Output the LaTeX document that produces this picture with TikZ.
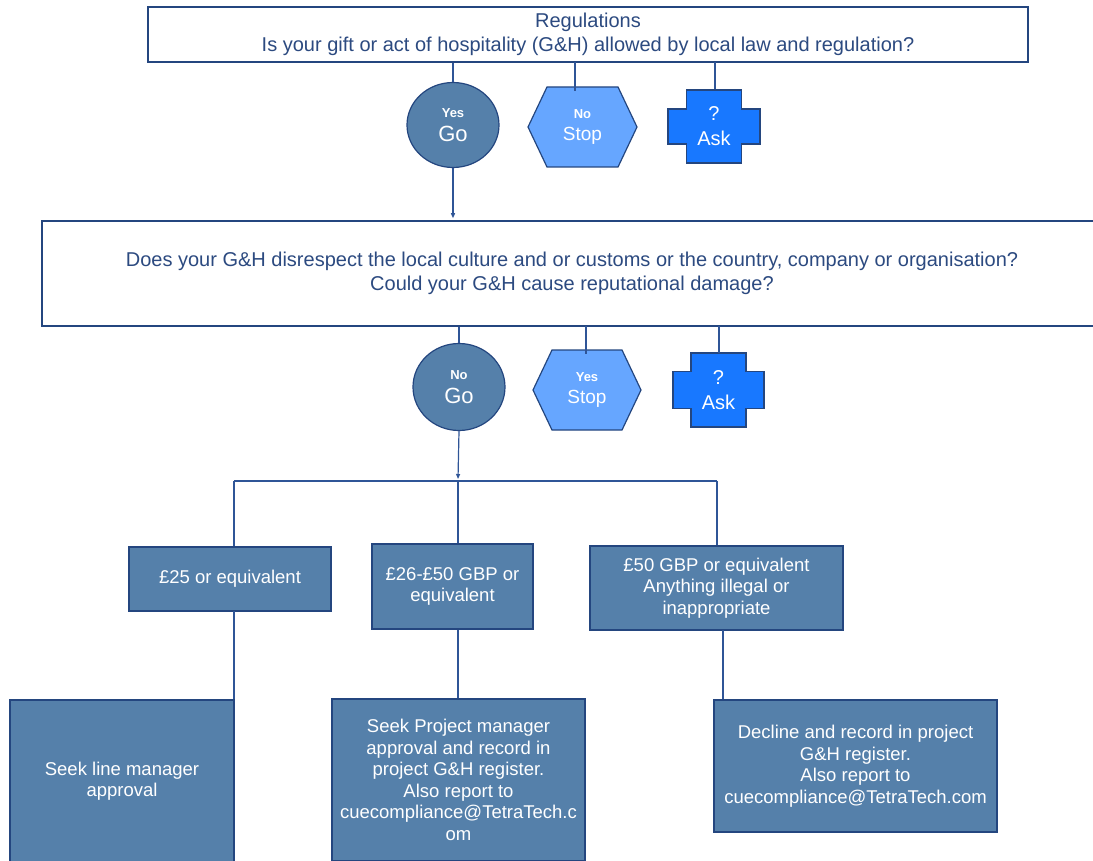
\documentclass[tikz,border=0pt]{standalone}
\usepackage{fontspec}
\setmainfont{Liberation Sans}
\usetikzlibrary{shapes.geometric,calc,arrows.meta}
\definecolor{fillblue}{HTML}{5580AA}
\definecolor{edgeblue}{HTML}{24467F}
\definecolor{txtblue}{HTML}{2C4A80}
\definecolor{hexblue}{HTML}{66A6FF}
\definecolor{askblue}{HTML}{1878FF}
\definecolor{lineblue}{HTML}{2F5597}
\begin{document}
\begin{tikzpicture}[x=1pt,y=-1pt,
  qbox/.style={draw=edgeblue,line width=1.5pt,fill=white,text=txtblue,align=center,
    font=\fontsize{20}{24.5}\selectfont,inner sep=0pt},
  vbox/.style={draw=edgeblue,line width=1.5pt,fill=fillblue,text=white,align=center,
    font=\fontsize{18.5}{21.5}\selectfont,inner sep=0pt},
  goshape/.style={ellipse,draw=edgeblue,line width=1.2pt,fill=fillblue,text=white,
    align=center,inner sep=0pt,minimum width=92pt,minimum height=85pt,
    font=\fontsize{22}{24}\selectfont},
  shapetext/.style={text=white,align=center,inner sep=0pt,minimum width=90pt,minimum height=72pt,
    font=\fontsize{20}{23}\selectfont},
  stopfill/.style={draw=edgeblue,line width=1.2pt,fill=hexblue},
  askfill/.style={draw=edgeblue,line width=1.2pt,fill=askblue},
  conn/.style={draw=lineblue,line width=1.2pt},
]
\useasboundingbox (0,0) rectangle (1093,861);

% ---- top question
\node[qbox,minimum width=880pt,minimum height=55pt] (box1) at (588,34.5)
  {Regulations\\Is your gift or act of hospitality (G\&H) allowed by local law and regulation?};

% ---- first answer row
\node[goshape] (circ1) at (453,125)
  {{\fontsize{13}{24}\selectfont\bfseries Yes}\\Go};

\coordinate (h1) at (582.5,127);
\draw[stopfill] ($(h1)+(-54.5,0)$) -- ($(h1)+(-35.5,-40)$) -- ($(h1)+(35.5,-40)$)
  -- ($(h1)+(54.5,0)$) -- ($(h1)+(35.5,40)$) -- ($(h1)+(-35.5,40)$) -- cycle;
\node[shapetext,font=\fontsize{19}{22}\selectfont] (hex1) at (h1)
  {{\fontsize{13}{22}\selectfont\bfseries No}\\Stop};

\coordinate (c1) at (714,126.5);
\draw[askfill] ($(c1)+(-27.5,-36.5)$) -- ($(c1)+(27.5,-36.5)$) -- ($(c1)+(27.5,-17.5)$)
  -- ($(c1)+(46,-17.5)$) -- ($(c1)+(46,17.5)$) -- ($(c1)+(27.5,17.5)$)
  -- ($(c1)+(27.5,36.5)$) -- ($(c1)+(-27.5,36.5)$) -- ($(c1)+(-27.5,17.5)$)
  -- ($(c1)+(-46,17.5)$) -- ($(c1)+(-46,-17.5)$) -- ($(c1)+(-27.5,-17.5)$) -- cycle;
\node[shapetext,font=\fontsize{20}{25}\selectfont] (cross1) at (c1) {?\\Ask};

% ---- second question
\node[qbox,minimum width=1060pt,minimum height=105pt] (box2) at (572,273.5)
  {Does your G\&H disrespect the local culture and or customs or the country, company or organisation?\\
   Could your G\&H cause reputational damage?};

% ---- second answer row
\node[goshape,minimum height=87pt] (circ2) at (459,387)
  {{\fontsize{13}{24}\selectfont\bfseries No}\\Go};

\coordinate (h2) at (587,390);
\draw[stopfill] ($(h2)+(-54,0)$) -- ($(h2)+(-35,-40)$) -- ($(h2)+(35,-40)$)
  -- ($(h2)+(54,0)$) -- ($(h2)+(35,40)$) -- ($(h2)+(-35,40)$) -- cycle;
\node[shapetext,font=\fontsize{19}{22}\selectfont] (hex2) at (h2)
  {{\fontsize{13}{22}\selectfont\bfseries Yes}\\Stop};

\coordinate (c2) at (718.5,390);
\draw[askfill] ($(c2)+(-27.5,-37)$) -- ($(c2)+(27.5,-37)$) -- ($(c2)+(27.5,-18.5)$)
  -- ($(c2)+(45.5,-18.5)$) -- ($(c2)+(45.5,18.5)$) -- ($(c2)+(27.5,18.5)$)
  -- ($(c2)+(27.5,37)$) -- ($(c2)+(-27.5,37)$) -- ($(c2)+(-27.5,18.5)$)
  -- ($(c2)+(-45.5,18.5)$) -- ($(c2)+(-45.5,-18.5)$) -- ($(c2)+(-27.5,-18.5)$) -- cycle;
\node[shapetext,font=\fontsize{20}{25}\selectfont] (cross2) at (c2) {?\\Ask};

% ---- value boxes
\node[vbox,minimum width=202pt,minimum height=64pt] (boxa) at (230,579) {£25 or equivalent};
\node[vbox,minimum width=161pt,minimum height=85pt] (boxb) at (452.5,586.5) {£26-£50 GBP or\\equivalent};
\node[vbox,minimum width=253pt,minimum height=84pt] (boxc) at (716.5,588)
  {£50 GBP or equivalent\\Anything illegal or\\inappropriate};

% ---- action boxes
\node[vbox,minimum width=224pt,minimum height=162pt] (boxd) at (122,781) {Seek line manager\\approval};
\node[vbox,minimum width=253pt,minimum height=162pt] (boxe) at (458.5,780)
  {Seek Project manager\\approval and record in\\project G\&H register.\\Also report to\\cuecompliance@TetraTech.c\\om};
\node[vbox,minimum width=283pt,minimum height=132pt] (boxf) at (855.5,766)
  {Decline and record in project\\G\&H register.\\Also report to\\cuecompliance@TetraTech.com};

% ---- connectors
\coordinate (t1) at (575,62);
\coordinate (t2) at (715,62);
\draw[conn] (box1.south -| circ1.north) -- (circ1.north);
\draw[conn] (t1) -- (t1 |- hex1.north);
\draw[conn] (t2) -- ($(t2 |- cross1.north)+(0,-1)$);
\draw[conn,-{Triangle[length=5pt,width=4pt]}] (circ1.south) -- ($(circ1.south |- box2.north)+(0,-2)$);

\coordinate (u1) at (586,326);
\coordinate (u2) at (719,326);
\draw[conn] (box2.south -| circ2.north) -- (circ2.north);
\draw[conn] (u1) -- (u1 |- hex2.north);
\draw[conn] (u2) -- ($(u2 |- cross2.north)+(0,-1)$);

\coordinate (bus) at (458,481);
\coordinate (ja) at (234,481);
\coordinate (jc) at (717,481);
\draw[conn,-{Triangle[length=5pt,width=4pt]}] (circ2.south) -- ($(bus)+(0,-2)$);
\draw[conn] (ja) -- (jc);
\draw[conn] (ja) -- (ja |- boxa.north);
\draw[conn] (bus) -- (bus |- boxb.north);
\draw[conn] (jc) -- (jc |- boxc.north);

\coordinate (da) at (234,611);
\coordinate (dc) at (723,630);
\draw[conn] (da) -- (da |- boxd.north);
\draw[conn] (bus |- boxb.south) -- (bus |- boxe.north);
\draw[conn] (dc) -- (dc |- boxf.north);
\end{tikzpicture}
\end{document}
